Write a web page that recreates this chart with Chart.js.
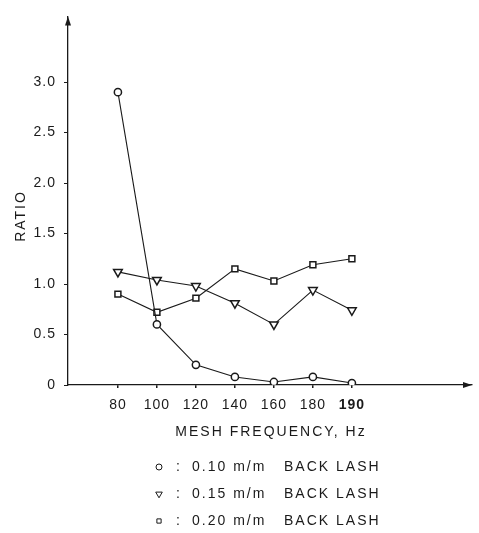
<!DOCTYPE html>
<html>
<head>
<meta charset="utf-8">
<script src="https://cdn.jsdelivr.net/npm/chart.js@4/dist/chart.umd.min.js"></script>
<style>
  html, body { margin: 0; padding: 0; background: #fff; }
  #wrap { width: 479px; height: 533px; }
</style>
</head>
<body>
<div id="wrap"><canvas id="ratioChart" width="479" height="533"></canvas></div>
<script>
// mesh frequency categories (equally spaced on the plot)
const freqLabels = ['80', '100', '120', '140', '160', '180', '190']
// ratio for each back lash
const ratio010 = [2.9, 0.6, 0.2, 0.08, 0.03, 0.08, 0.02]
const ratio015 = [1.12, 1.04, 0.98, 0.81, 0.6, 0.94, 0.74]
const ratio020 = [0.9, 0.72, 0.86, 1.15, 1.03, 1.19, 1.25]
const yTicks = [0, 0.5, 1.0, 1.5, 2.0, 2.5, 3.0]
const legendLabels = ['0.10 m/m', '0.15 m/m', '0.20 m/m']

const FONT = '"Liberation Sans", Arial, sans-serif'
const INK = '#1a1a1a'

function toPoints(values) {
    return values.map(function (v, i) { return {x: i, y: v} })
}

function series(label, values, style, rotation, radius) {
    return {
        label: label,
        data: toPoints(values),
        borderColor: INK,
        borderWidth: 1.1,
        backgroundColor: '#fff',
        pointStyle: style,
        pointRotation: rotation,
        pointRadius: radius,
        pointBorderWidth: 1.5,
        pointBorderColor: INK,
        pointBackgroundColor: '#fff',
        tension: 0
    }
}

// wider lettering like the original drawing
const spacing = {
    id: 'spacing',
    beforeDraw(chart) { chart.ctx.letterSpacing = '1px' }
}

// arrow heads at the ends of the two axes, plus axis titles
const axisDecor = {
    id: 'axisDecor',
    afterDraw(chart) {
        const ctx = chart.ctx
        const a = chart.chartArea
        ctx.save()
        ctx.fillStyle = INK
        ctx.beginPath()
        ctx.moveTo(a.right, a.bottom)
        ctx.lineTo(a.right - 9, a.bottom - 3)
        ctx.lineTo(a.right - 9, a.bottom + 3)
        ctx.closePath()
        ctx.fill()
        ctx.beginPath()
        ctx.moveTo(a.left, a.top)
        ctx.lineTo(a.left - 3, a.top + 9)
        ctx.lineTo(a.left + 3, a.top + 9)
        ctx.closePath()
        ctx.fill()

        ctx.letterSpacing = '2px'
        ctx.font = '14px ' + FONT
        ctx.textAlign = 'center'
        ctx.textBaseline = 'middle'
        ctx.fillText('MESH FREQUENCY, Hz', (a.left + a.right) / 2 + 1, 432)
        ctx.translate(21, 216)
        ctx.rotate(-Math.PI / 2)
        ctx.fillText('RATIO', 0, 0)
        ctx.restore()
    }
}

// legend written as three lines under the axis title
const textLegend = {
    id: 'textLegend',
    afterDraw(chart) {
        const ctx = chart.ctx
        ctx.save()
        ctx.font = '14px ' + FONT
        ctx.letterSpacing = '2px'
        ctx.textBaseline = 'middle'
        chart.data.datasets.forEach(function (ds, i) {
            const y = 467 + i * 27
            ctx.strokeStyle = INK
            ctx.fillStyle = '#fff'
            Chart.helpers.drawPoint(ctx, {
                pointStyle: ds.pointStyle,
                rotation: ds.pointRotation,
                radius: ds.pointStyle === 'triangle' ? 3.8 : 3,
                borderWidth: 1.4
            }, 159, y)
            ctx.fillStyle = INK
            ctx.fillText(':', 176, y)
            ctx.fillText(legendLabels[i], 192, y)
            ctx.fillText('BACK LASH', 284, y)
        })
        ctx.restore()
    }
}

new Chart(document.getElementById('ratioChart'), {
    type: 'line',
    data: {
        datasets: [
            series('0.10 m/m BACK LASH', ratio010, 'circle', 0, 3.6),
            series('0.15 m/m BACK LASH', ratio015, 'triangle', 180, 5),
            series('0.20 m/m BACK LASH', ratio020, 'rect', 0, 4.2)
        ]
    },
    options: {
        responsive: false,
        animation: false,
        layout: {padding: {top: 12, right: 7, bottom: 88, left: 0}},
        plugins: {legend: {display: false}, tooltip: {enabled: false}},
        scales: {
            x: {
                type: 'linear',
                min: -1.28,
                max: 9.08,
                afterBuildTicks: function (scale) {
                    scale.ticks = freqLabels.map(function (l, i) { return {value: i} })
                },
                afterFit: function (scale) { scale.height = 60 },
                border: {display: true, color: INK, width: 1.3},
                grid: {drawOnChartArea: false, tickLength: 3, color: INK, lineWidth: 1.5},
                ticks: {
                    color: INK,
                    padding: 9,
                    maxRotation: 0,
                    font: function (c) {
                        const last = c.tick && c.tick.value === freqLabels.length - 1
                        return {family: FONT, size: 14, weight: last ? 'bold' : 'normal'}
                    },
                    callback: function (v) { return freqLabels[v] }
                }
            },
            y: {
                min: 0,
                max: 3.65,
                afterBuildTicks: function (scale) {
                    scale.ticks = yTicks.map(function (v) { return {value: v} })
                },
                afterFit: function (scale) { scale.width = 68 },
                border: {display: true, color: INK, width: 1.3},
                grid: {drawOnChartArea: false, tickLength: 4, color: INK, lineWidth: 1},
                ticks: {
                    color: INK,
                    padding: 8,
                    font: {family: FONT, size: 14},
                    callback: function (v) { return v === 0 ? '0' : v.toFixed(1) }
                }
            }
        }
    },
    plugins: [spacing, axisDecor, textLegend]
})
</script>
</body>
</html>
